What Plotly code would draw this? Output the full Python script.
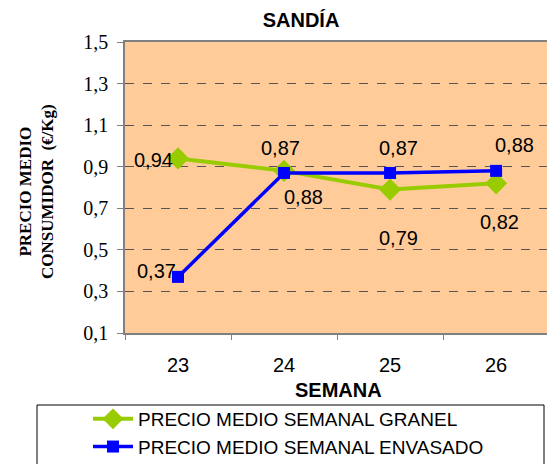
import plotly.graph_objects as go

weeks = ["23", "24", "25", "26"]
granel = [0.94, 0.88, 0.79, 0.82]
envasado = [0.37, 0.87, 0.87, 0.88]
y_ticks = [0.1, 0.3, 0.5, 0.7, 0.9, 1.1, 1.3, 1.5]

name_granel = "PRECIO MEDIO SEMANAL GRANEL"
name_envasado = "PRECIO MEDIO SEMANAL ENVASADO"

# label offsets (px) per point: (xshift, yshift)
off_granel = [(-25, -2), (19, -26), (8, -48), (3, -39)]
off_envasado = [(-22, 6), (-4, 25), (8, 25), (18, 26)]

W, H = 547, 464
L, R, T, B = 125, 0, 42, 131
pw, ph = W - L - R, H - T - B

def px_x(px):
    return (px - L) / pw

def px_y(py):
    return (H - B - py) / ph

fig = go.Figure()
fig.add_trace(go.Scatter(
    x=weeks, y=granel, name=name_granel, mode="lines+markers",
    line=dict(color="#99CC00", width=4),
    marker=dict(symbol="diamond", size=17, color="#99CC00"),
))
fig.add_trace(go.Scatter(
    x=weeks, y=envasado, name=name_envasado, mode="lines+markers",
    line=dict(color="#0000FF", width=3.5),
    marker=dict(symbol="square", size=12, color="#0000FF"),
))

ann = []
label_font = dict(family="Liberation Sans, Arial", size=20, color="black")
for vals, offs in ((granel, off_granel), (envasado, off_envasado)):
    for i, (v, (dx, dy)) in enumerate(zip(vals, offs)):
        ann.append(dict(x=i, y=v, xref="x", yref="y", text=f"{v:.2f}".replace(".", ","),
                        showarrow=False, xshift=dx, yshift=dy, font=label_font))

# y-axis title
ann.append(dict(xref="paper", yref="paper", x=px_x(37), y=px_y(192), xanchor="center", yanchor="middle",
                text="<b>PRECIO MEDIO<br>CONSUMIDOR  (€/Kg)</b>", textangle=-90,
                showarrow=False, font=dict(family="Liberation Serif, Times New Roman", size=17, color="black"),
                align="center"))
# x-axis title
ann.append(dict(xref="paper", yref="paper", x=px_x(338), y=px_y(390), xanchor="center", yanchor="middle",
                text="<b>SEMANA</b>", showarrow=False,
                font=dict(family="Liberation Sans, Arial", size=20, color="black")))

fig.update_layout(
    width=W, height=H,
    margin=dict(l=L, r=R, t=T, b=B, autoexpand=False),
    paper_bgcolor="white",
    plot_bgcolor="#FFCC99",
    separators=", ",
    title=dict(text="<b>SANDÍA</b>", x=301 / W, xanchor="center", y=1 - 20 / H, yanchor="middle",
               font=dict(family="Liberation Sans, Arial", size=20, color="black")),
    xaxis=dict(type="category", range=[-0.5, 3.48], showline=True, linecolor="#808080", linewidth=1.5,
               mirror=True, ticks="outside", ticklen=5, tickcolor="#808080", tickson="boundaries",
               showgrid=False, tickfont=dict(family="Liberation Sans, Arial", size=20, color="black"),
               zeroline=False, ticklabelstandoff=13),
    yaxis=dict(range=[0.1, 1.5], tickvals=y_ticks, tickformat=".1f", showline=True, linecolor="#808080",
               linewidth=1.5, ticks="outside", ticklen=6, tickcolor="#808080",
               showgrid=True, gridcolor="#555555", griddash="dash", gridwidth=1, zeroline=False,
               ticklabelstandoff=5,
               tickfont=dict(family="Liberation Serif, Times New Roman", size=20, color="black")),
    showlegend=True,
    legend=dict(x=px_x(88), xanchor="left", y=px_y(400), yanchor="top",
                bgcolor="rgba(0,0,0,0)", borderwidth=0,
                font=dict(family="Liberation Sans, Arial", size=19, color="black"),
                tracegroupgap=0, itemwidth=40),
    annotations=ann,
    shapes=[dict(type="rect", xref="paper", yref="paper", x0=px_x(37), x1=px_x(544),
                 y0=px_y(470), y1=px_y(405), line=dict(color="black", width=1),
                 fillcolor="white", layer="below")],
)

fig.write_html("out.html", post_script="document.body.style.margin='0';",
               config={"displayModeBar": False})
